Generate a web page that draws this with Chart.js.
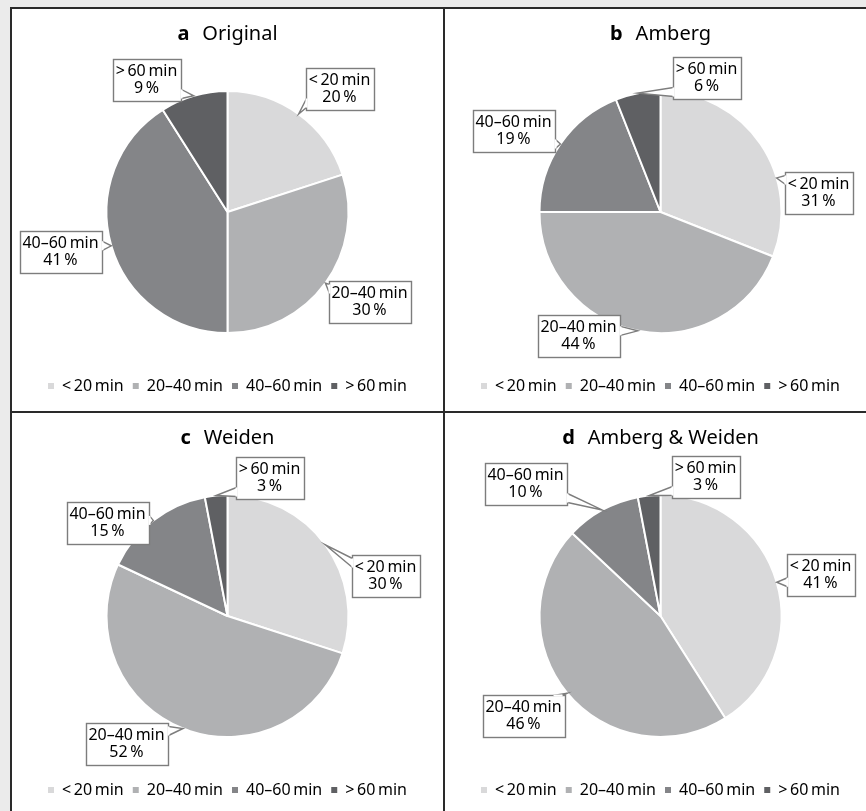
<!DOCTYPE html>
<html>
<head>
<meta charset="utf-8">
<script src="https://cdn.jsdelivr.net/npm/chart.js@4.4.1/dist/chart.umd.min.js"></script>
<style>
  html, body { margin: 0; padding: 0; background: #ebebeb; width: 866px; height: 811px; overflow: hidden; font-family: "Noto Sans", sans-serif; }
  #grid { position: absolute; left: 10px; top: 7px; display: grid; grid-template-columns: 431px 431px; grid-template-rows: 402px 402px; gap: 2px; padding: 2px; background: #2a2a2a; }
  .panel { position: relative; background: #fff; width: 431px; height: 402px; }
  .panel canvas { position: absolute; left: 0; top: 0; }
  .title { position: absolute; left: 0; right: 0; top: 10px; text-align: center; font-size: 20px; line-height: 28px; color: #000; }
  .title b { margin-right: 13px; }
</style>
</head>
<body>
<div id="grid"></div>
<script>
const categories = ["<\u200920\u2009min", "20–40\u2009min", "40–60\u2009min", ">\u200960\u2009min"];
const panelLetters = ["a", "b", "c", "d"];
const panelNames = ["Original", "Amberg", "Weiden", "Amberg & Weiden"];
const originalShares = [20, 30, 41, 9];
const ambergShares = [31, 44, 19, 6];
const weidenShares = [30, 52, 15, 3];
const combinedShares = [41, 46, 10, 3];
const sliceColors = ["#d9d9da", "#b0b1b3", "#848588", "#5f6063"];

// where each callout box sits, relative to the pie centre (px)
const calloutOffsets = [
  [[112, -123], [142, 90], [-167, 40], [-81, -132]],
  [[158, -19], [-82, 124], [-147, -81], [46, -134]],
  [[158, -40], [-101, 128], [-120, -93], [42, -138]],
  [[160, -41], [-137, 100], [-135, -132], [45, -139]],
];
// where along the slice edge the callout tail points (0..1)
const tailAt = [
  [0.5, 0.5, 0.5, 0.5],
  [0.66, 0.5, 0.5, 0.5],
  [0.5, 0.5, 0.5, 0.5],
  [0.5, 0.5, 0.5, 0.5],
];

const clamp = (v, lo, hi) => Math.min(Math.max(v, lo), hi);

const calloutPlugin = {
  id: "callouts",
  afterDatasetsDraw(chart, args, opts) {
    const ctx = chart.ctx;
    const meta = chart.getDatasetMeta(0);
    const values = chart.data.datasets[0].data;
    ctx.save();
    ctx.font = "16px 'Noto Sans'";
    ctx.lineWidth = 1.4;
    meta.data.forEach((arc, i) => {
      const p = arc.getProps(["x", "y", "startAngle", "endAngle", "outerRadius"], true);
      const a = p.startAngle + (p.endAngle - p.startAngle) * opts.tailAt[i];
      const tip = { x: p.x + Math.cos(a) * p.outerRadius, y: p.y + Math.sin(a) * p.outerRadius };
      const lines = [chart.data.labels[i], values[i] + "\u2009%"];
      const w = Math.round(Math.max(...lines.map((l) => ctx.measureText(l).width)) + 6);
      const h = 42;
      const cx = p.x + opts.offsets[i][0];
      const cy = p.y + opts.offsets[i][1];
      const x0 = Math.round(cx - w / 2) + 0.5, y0 = Math.round(cy - h / 2) + 0.5;
      const x1 = x0 + w, y1 = y0 + h;

      ctx.fillStyle = "#fff";
      ctx.strokeStyle = "#7d7d7d";
      ctx.fillRect(x0, y0, w, h);
      ctx.strokeRect(x0, y0, w, h);

      // tail
      const px = clamp(tip.x, x0, x1), py = clamp(tip.y, y0, y1);
      const tw = 9;
      let b1, b2;
      if (Math.abs(tip.x - px) >= Math.abs(tip.y - py)) {
        let s = py === y1 ? py - 3 - tw : py === y0 ? py + 3 : py - tw / 2;
        s = clamp(s, y0 + 3, y1 - 3 - tw);
        b1 = { x: px, y: s }; b2 = { x: px, y: s + tw };
      } else {
        let s = px === x1 ? px - 3 - tw : px === x0 ? px + 3 : px - tw / 2;
        s = clamp(s, x0 + 3, x1 - 3 - tw);
        b1 = { x: s, y: py }; b2 = { x: s + tw, y: py };
      }
      ctx.beginPath();
      ctx.moveTo(b1.x, b1.y); ctx.lineTo(tip.x, tip.y); ctx.lineTo(b2.x, b2.y);
      ctx.closePath();
      ctx.fill();
      ctx.beginPath();
      ctx.moveTo(b1.x, b1.y); ctx.lineTo(tip.x, tip.y); ctx.lineTo(b2.x, b2.y);
      ctx.stroke();
      ctx.strokeStyle = "#fff";
      ctx.lineWidth = 2;
      ctx.beginPath();
      ctx.moveTo(b1.x, b1.y); ctx.lineTo(b2.x, b2.y);
      ctx.stroke();
      ctx.lineWidth = 1.4;

      ctx.fillStyle = "#000";
      ctx.textAlign = "center";
      ctx.textBaseline = "middle";
      ctx.fillText(lines[0], cx, y0 + 12);
      ctx.fillText(lines[1], cx, y0 + 29);
    });
    ctx.restore();
  },
};

const buildPanel = (idx, shares) => {
  const panel = document.createElement("div");
  panel.className = "panel";
  const canvas = document.createElement("canvas");
  canvas.width = 431;
  canvas.height = 402;
  panel.appendChild(canvas);
  const title = document.createElement("div");
  title.className = "title";
  title.innerHTML = `<b>${panelLetters[idx]}</b>${panelNames[idx]}`;
  panel.appendChild(title);
  document.getElementById("grid").appendChild(panel);

  new Chart(canvas, {
    type: "pie",
    data: {
      labels: categories,
      datasets: [
        {
          data: shares,
          backgroundColor: sliceColors,
          borderColor: "#fff",
          borderWidth: 2,
          radius: 121,
        },
      ],
    },
    options: {
      responsive: false,
      animation: false,
      events: [],
      layout: { padding: { top: 46, bottom: 7 } },
      plugins: {
        tooltip: { enabled: false },
        legend: {
          position: "bottom",
          labels: {
            boxWidth: 6,
            boxHeight: 6,
            padding: 9,
            color: "#000",
            font: { family: "Noto Sans", size: 16 },
            generateLabels: (chart) =>
              chart.data.labels.map((text, i) => ({
                text,
                fillStyle: sliceColors[i],
                strokeStyle: sliceColors[i],
                lineWidth: 0,
                fontColor: "#000",
                index: i,
              })),
          },
        },
        callouts: { offsets: calloutOffsets[idx], tailAt: tailAt[idx] },
      },
    },
    plugins: [calloutPlugin],
  });
};

buildPanel(0, originalShares);
buildPanel(1, ambergShares);
buildPanel(2, weidenShares);
buildPanel(3, combinedShares);
</script>
</body>
</html>
